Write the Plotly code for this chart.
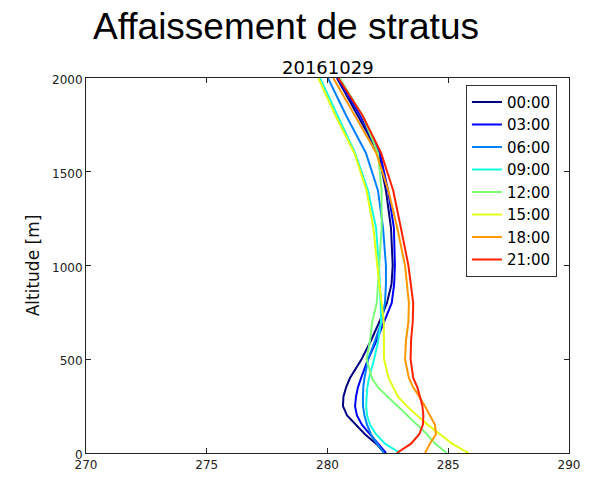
import plotly.graph_objects as go

# Altitude levels (m) of the vertical profiles
altitude = [0, 50, 100, 150, 200, 250, 300, 350, 400, 500, 600, 700,
            800, 900, 1000, 1200, 1400, 1600, 1800, 2000]

# Potential temperature profiles (K) for each hour
t_0000 = [282.38, 282.01, 281.55, 281.18, 280.81, 280.64, 280.66, 280.77, 280.93, 281.41,
          281.80, 282.15, 282.46, 282.65, 282.70, 282.63, 282.42, 282.11, 281.26, 280.39]
t_0300 = [282.42, 282.09, 281.74, 281.43, 281.22, 281.14, 281.18, 281.26, 281.39, 281.68,
          282.03, 282.34, 282.66, 282.76, 282.79, 282.75, 282.51, 282.17, 281.35, 280.43]
t_0600 = [282.34, 282.05, 281.80, 281.64, 281.53, 281.47, 281.47, 281.48, 281.53, 281.68,
          281.97, 282.24, 282.38, 282.42, 282.42, 282.30, 282.09, 281.59, 280.77, 280.02]
t_0900 = [283.00, 282.38, 282.01, 281.76, 281.64, 281.60, 281.62, 281.65, 281.72, 281.93,
          282.10, 282.22, 282.20, 282.16, 282.13, 282.01, 281.68, 281.14, 280.43, 279.69]
t_1200 = [284.94, 284.45, 284.12, 283.71, 283.29, 282.88, 282.46, 282.09, 281.84, 281.62,
          281.76, 281.85, 282.04, 282.10, 282.14, 282.24, 282.24, 282.09, 281.45, 280.50]
t_1500 = [285.83, 285.16, 284.66, 284.16, 283.71, 283.29, 282.92, 282.71, 282.53, 282.34,
          282.33, 282.33, 282.24, 282.14, 282.06, 281.90, 281.62, 281.11, 280.33, 279.62]
t_1800 = [284.04, 284.24, 284.49, 284.45, 284.24, 284.04, 283.80, 283.55, 283.37, 283.21,
          283.25, 283.35, 283.37, 283.30, 283.21, 282.89, 282.52, 282.02, 281.14, 280.24]
t_2100 = [282.87, 283.46, 283.80, 283.95, 283.97, 283.93, 283.83, 283.72, 283.55, 283.44,
          283.46, 283.53, 283.55, 283.46, 283.35, 283.04, 282.72, 282.22, 281.45, 280.45]

hours = ["00:00", "03:00", "06:00", "09:00", "12:00", "15:00", "18:00", "21:00"]
profiles = [t_0000, t_0300, t_0600, t_0900, t_1200, t_1500, t_1800, t_2100]
# jet colormap sampled at i/8
colors = ["#000080", "#0000FF", "#0080FF", "#14FFE2",
          "#7BFF7B", "#E2FF14", "#FF9700", "#FF2100"]

x_ticks = [270, 275, 280, 285, 290]
y_ticks = [0, 500, 1000, 1500, 2000]

fig = go.Figure()
for name, prof, col in zip(hours, profiles, colors):
    fig.add_trace(go.Scatter(x=prof, y=altitude, mode="lines", name=name,
                             line=dict(color=col, width=2)))

tick_font = dict(family="DejaVu Sans", size=12, color="#222222")
axis_common = dict(showline=True, linecolor="#222222", linewidth=1, mirror="allticks",
                   ticks="inside", ticklen=5, tickwidth=1, tickcolor="#222222",
                   showgrid=False, zeroline=False, tickfont=tick_font)

fig.update_xaxes(range=[270, 290], tickvals=x_ticks, ticktext=[str(v) for v in x_ticks],
                 ticklabelstandoff=1, **axis_common)
fig.update_yaxes(range=[0, 2000], tickvals=y_ticks, ticktext=[str(v) for v in y_ticks],
                 ticklabelshift=2,
                 title=dict(text="Altitude [m]", standoff=8,
                            font=dict(family="DejaVu Sans", size=17, color="#111111")),
                 **axis_common)

fig.update_layout(
    width=600, height=492,
    margin=dict(l=86, r=31, t=78, b=39),
    paper_bgcolor="white", plot_bgcolor="white",
    title=dict(text="Affaissement de stratus", x=93 / 600, xanchor="left",
               y=1 - 26 / 492, yanchor="middle", xref="container", yref="container",
               font=dict(family="Liberation Sans", size=37, color="black")),
    annotations=[dict(text="20161029", xref="paper", yref="paper", x=0.5, y=1,
                      xanchor="center", yanchor="bottom", showarrow=False, yshift=-2,
                      font=dict(family="DejaVu Sans", size=18, color="black"))],
    legend=dict(x=0.975, y=0.982, xanchor="right", yanchor="top",
                bgcolor="white", bordercolor="#333333", borderwidth=1,
                font=dict(family="DejaVu Sans", size=15, color="black"),
                itemwidth=30, tracegroupgap=0),
    showlegend=True,
)

fig.write_html("out.html")
